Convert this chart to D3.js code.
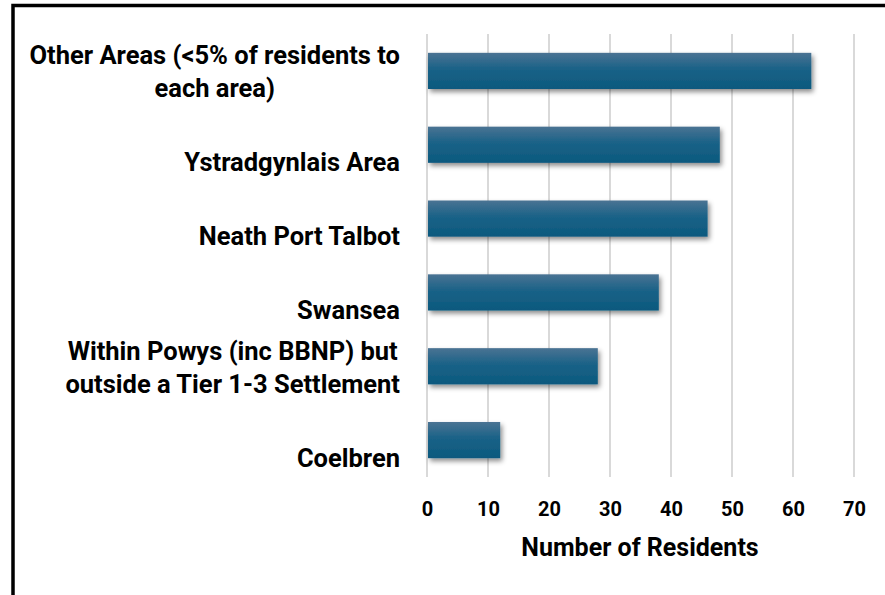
<!DOCTYPE html>
<html>
<head>
<meta charset="utf-8">
<script src="https://cdn.jsdelivr.net/npm/d3@7"></script>
<style>
  html, body { margin: 0; padding: 0; background: #fff; }
  svg { display: block; }
  text { font-family: Roboto, "Liberation Sans", Arial, sans-serif; font-weight: 700; fill: #000; }
</style>
</head>
<body>
<svg id="chart" width="885" height="595"></svg>
<script>
// Destination areas (top to bottom) and resident counts
const categories = [
  ["Other Areas (<5% of residents to", "each area)"],
  ["Ystradgynlais Area"],
  ["Neath Port Talbot"],
  ["Swansea"],
  ["Within Powys (inc BBNP) but", "outside a Tier 1-3 Settlement"],
  ["Coelbren"]
];
const residents = [63, 48, 46, 38, 28, 12];
const xTicks = [0, 10, 20, 30, 40, 50, 60, 70];
const xTitle = "Number of Residents";

const svg = d3.select("#chart");
const margin = { left: 427, right: 31, top: 34, bottom: 118 };
const W = 885, H = 595;

// Outer chart frame (runs off the right and bottom edges)
svg.append("rect")
  .attr("x", 13).attr("y", 5.5)
  .attr("width", 900).attr("height", 620)
  .attr("fill", "#fff").attr("stroke", "#000").attr("stroke-width", 3.5);

const defs = svg.append("defs");
const grad = defs.append("linearGradient")
  .attr("id", "barFill").attr("x1", 0).attr("y1", 0).attr("x2", 0).attr("y2", 1);
grad.append("stop").attr("offset", "0%").attr("stop-color", "#4a7393");
grad.append("stop").attr("offset", "45%").attr("stop-color", "#1a6287");
grad.append("stop").attr("offset", "100%").attr("stop-color", "#0b597e");

const shadow = defs.append("filter").attr("id", "barShadow")
  .attr("x", "-10%").attr("y", "-30%").attr("width", "130%").attr("height", "170%");
shadow.append("feDropShadow")
  .attr("dx", 2).attr("dy", 3).attr("stdDeviation", 2.5)
  .attr("flood-color", "#000").attr("flood-opacity", 0.45);

const x = d3.scaleLinear().domain([0, 70]).range([margin.left, W - margin.right]);
const y = d3.scaleBand().domain(d3.range(categories.length))
  .range([margin.top, H - margin.bottom]).paddingInner(0.51).paddingOuter(0.255);

// Vertical gridlines
svg.append("g").selectAll("line").data(xTicks).join("line")
  .attr("x1", d => x(d)).attr("x2", d => x(d))
  .attr("y1", margin.top).attr("y2", H - margin.bottom)
  .attr("stroke", "#d9d9d9").attr("stroke-width", 2);

// Bars
svg.append("g").selectAll("rect").data(residents).join("rect")
  .attr("x", x(0) + 1)
  .attr("y", (d, i) => y(i))
  .attr("width", d => x(d) - x(0) - 1)
  .attr("height", y.bandwidth())
  .attr("fill", "url(#barFill)")
  .attr("filter", "url(#barShadow)");

// X axis tick labels
const xAxis = d3.axisBottom(x).tickValues(xTicks).tickSize(0).tickPadding(0);
const gx = svg.append("g")
  .attr("transform", `translate(0,${H - margin.bottom + 39})`)
  .call(xAxis);
gx.select(".domain").remove();
gx.selectAll("text")
  .attr("dy", 0)
  .style("font-size", "20px").style("font-weight", 700)
  .style("font-family", "Roboto, 'Liberation Sans', Arial, sans-serif")
  .attr("fill", "#000");

// X axis title
svg.append("text")
  .attr("x", 640).attr("y", 556)
  .attr("text-anchor", "middle")
  .style("font-size", "25px")
  .text(xTitle);

// Category labels: lines are centred on each other, the block is right-aligned
// against the axis, and single labels sit on the lower of two line slots
const labelRight = 400;
const lineGap = 33;
const labels = svg.append("g").selectAll("text").data(categories).join("text")
  .attr("text-anchor", "middle")
  .style("font-size", "25.5px");
labels.each(function(lines, i) {
  const cy = y(i) + y.bandwidth() / 2;
  const slots = lines.length === 1 ? ["", lines[0]] : lines;
  const t = d3.select(this);
  const spans = [];
  slots.forEach((ln, k) => {
    if (!ln) return;
    spans.push(t.append("tspan")
      .attr("y", cy + (k - 0.5) * lineGap + 10)
      .text(ln));
  });
  const widest = d3.max(spans, s => s.node().getComputedTextLength());
  spans.forEach(s => s.attr("x", labelRight - widest / 2));
});
</script>
</body>
</html>
